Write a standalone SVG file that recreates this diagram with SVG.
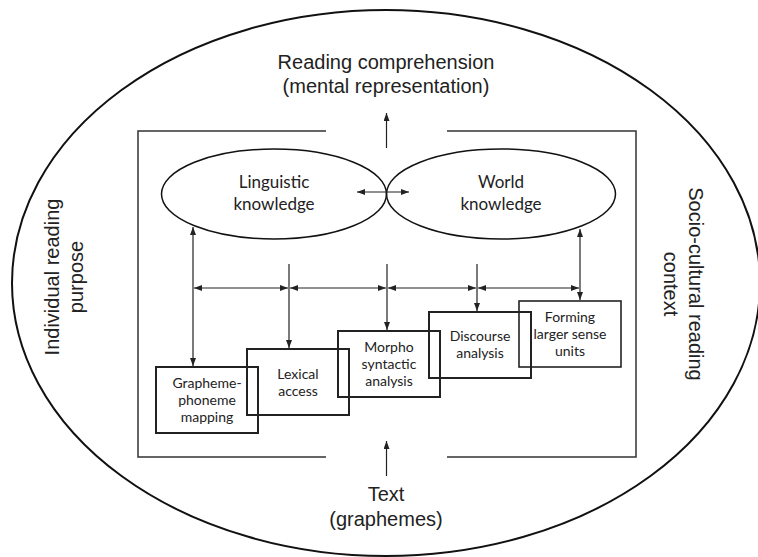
<svg xmlns="http://www.w3.org/2000/svg" width="758" height="557" viewBox="0 0 758 557">
<style>
.big{font-family:"Liberation Sans",Arial,sans-serif;font-size:20px;fill:#222;text-anchor:middle}
.sm{font-family:Lato,"Open Sans",sans-serif;font-size:14px;fill:#222;text-anchor:middle}
.md{font-family:Lato,"Open Sans",sans-serif;font-size:17px;fill:#222;text-anchor:middle}
.box{fill:none;stroke:#222;stroke-width:2}
.line{fill:none;stroke:#222;stroke-width:1.2}
.frame{fill:none;stroke:#333;stroke-width:1.5}
</style>
<defs>
<marker id="ah" viewBox="0 0 8 6" markerWidth="8" markerHeight="6" refX="8" refY="3" orient="auto-start-reverse" markerUnits="userSpaceOnUse">
<path d="M0,0 L8,3 L0,6 z" fill="#222"/>
</marker>
</defs>
<rect width="758" height="557" fill="#fff"/>
<g id="outer">
<ellipse cx="386" cy="283" rx="374" ry="273" fill="none" stroke="#111" stroke-width="2"/>
<text class="big" x="386" y="69">Reading comprehension</text>
<text class="big" x="386" y="93">(mental representation)</text>
<text class="big" x="386" y="501">Text</text>
<text class="big" x="386" y="526">(graphemes)</text>
<text class="big" transform="translate(59,277) rotate(-90)">Individual reading</text>
<text class="big" transform="translate(83,277) rotate(-90)">purpose</text>
<text class="big" transform="translate(689,284) rotate(90)">Socio-cultural reading</text>
<text class="big" transform="translate(664,284) rotate(90)">context</text>
</g>
<g id="frame">
<path class="frame" d="M326,131 H138 V457 H326 M447,131 H636 V457 H447"/>
</g>
<g id="linguistic">
<ellipse cx="274" cy="194" rx="112.5" ry="45" fill="none" stroke="#111" stroke-width="1.5"/>
<text class="md" x="274" y="188">Linguistic</text>
<text class="md" x="274" y="210">knowledge</text>
</g>
<g id="world">
<ellipse cx="501" cy="194" rx="114.5" ry="45" fill="none" stroke="#111" stroke-width="1.5"/>
<text class="md" x="501" y="188">World</text>
<text class="md" x="501" y="210">knowledge</text>
</g>
<g id="grapheme">
<rect class="box" x="156" y="367" width="102" height="66"/>
<text class="sm" x="207" y="388">Grapheme-</text>
<text class="sm" x="207" y="405">phoneme</text>
<text class="sm" x="207" y="422">mapping</text>
</g>
<g id="lexical">
<rect class="box" x="247" y="349" width="102" height="66"/>
<text class="sm" x="298" y="379">Lexical</text>
<text class="sm" x="298" y="396">access</text>
</g>
<g id="morpho">
<rect class="box" x="338" y="331" width="102" height="66"/>
<text class="sm" x="389" y="352">Morpho</text>
<text class="sm" x="389" y="369">syntactic</text>
<text class="sm" x="389" y="386">analysis</text>
</g>
<g id="discourse">
<rect class="box" x="429" y="312" width="102" height="66"/>
<text class="sm" x="480" y="341">Discourse</text>
<text class="sm" x="480" y="358">analysis</text>
</g>
<g id="forming">
<rect class="box" x="519" y="301" width="102" height="66" style="stroke-width:1.6"/>
<text class="sm" x="570" y="322">Forming</text>
<text class="sm" x="570" y="339">larger sense</text>
<text class="sm" x="570" y="356">units</text>
</g>
<g id="connectors">
<line class="line" x1="386.5" y1="148" x2="386.5" y2="113" marker-end="url(#ah)"/>
<line class="line" x1="386.5" y1="476" x2="386.5" y2="441" marker-end="url(#ah)"/>
<line class="line" x1="357" y1="192" x2="409" y2="192" marker-start="url(#ah)" marker-end="url(#ah)"/>
<line class="line" x1="193" y1="227" x2="193" y2="366" marker-start="url(#ah)" marker-end="url(#ah)"/>
<line class="line" x1="289" y1="264" x2="289" y2="348" marker-end="url(#ah)"/>
<line class="line" x1="387" y1="264" x2="387" y2="330" marker-end="url(#ah)"/>
<line class="line" x1="477" y1="264" x2="477" y2="311" marker-end="url(#ah)"/>
<line class="line" x1="580" y1="229" x2="580" y2="300" marker-start="url(#ah)" marker-end="url(#ah)"/>
<line class="line" x1="194" y1="288" x2="288" y2="288" marker-start="url(#ah)" marker-end="url(#ah)"/>
<line class="line" x1="290" y1="288" x2="386" y2="288" marker-start="url(#ah)" marker-end="url(#ah)"/>
<line class="line" x1="388" y1="288" x2="476" y2="288" marker-start="url(#ah)" marker-end="url(#ah)"/>
<line class="line" x1="478" y1="288" x2="579" y2="288" marker-start="url(#ah)" marker-end="url(#ah)"/>
</g>
</svg>
